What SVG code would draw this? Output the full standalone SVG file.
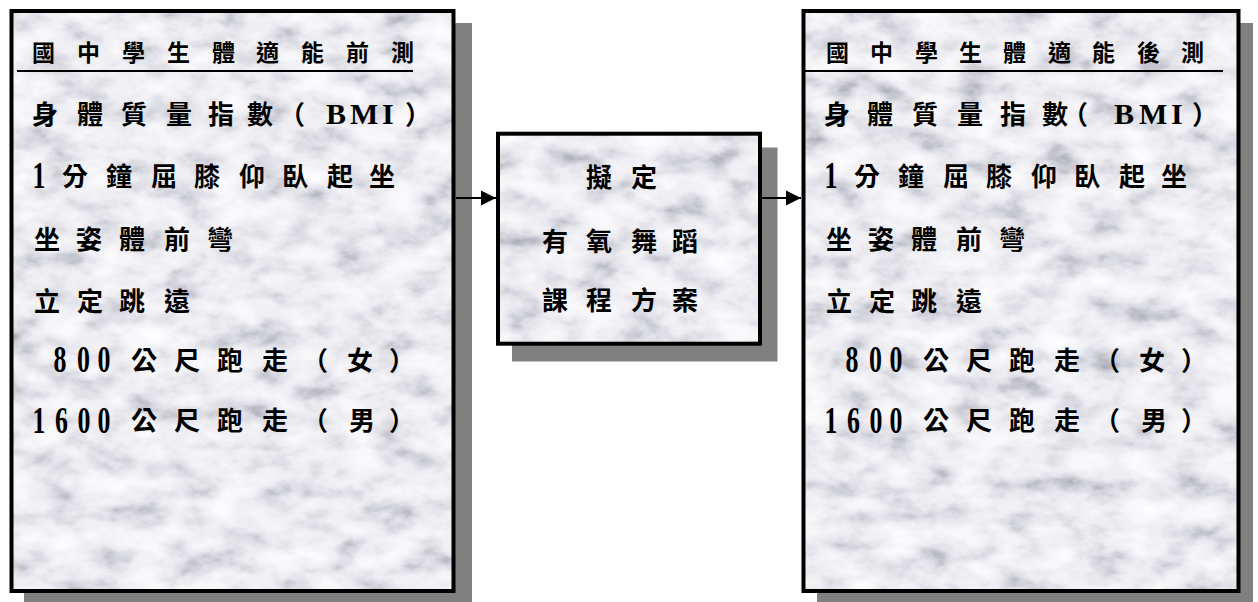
<svg xmlns="http://www.w3.org/2000/svg" width="1258" height="602" viewBox="0 0 1258 602">
<style>
.shadow{fill:#808080}
.base{fill:#e6e6ea}
.border{fill:none;stroke:#000;stroke-width:4}
.cjk{font-family:"Noto Sans CJK TC","Noto Sans CJK SC",sans-serif;font-weight:700;font-size:26px;fill:#000}
.title{font-size:23px}
.lat{font-family:"Liberation Serif",serif;font-weight:700;font-size:30px;fill:#000}
.num{font-family:"Liberation Serif",serif;font-weight:700;font-size:37px;fill:#000}
.rule{stroke:#000;stroke-width:2}
.conn{stroke:#000;stroke-width:2;fill:none}
</style>
<defs>
<filter id="marble" filterUnits="objectBoundingBox" x="0" y="0" width="1" height="1" color-interpolation-filters="sRGB">
<feTurbulence type="fractalNoise" baseFrequency="0.024 0.04" numOctaves="5" seed="7"/>
<feColorMatrix type="matrix" values="1 0 0 0 0 1 0 0 0 0 1 0 0 0 0 0 0 0 0 1"/>
<feComponentTransfer>
<feFuncR type="table" tableValues="0.6 0.74 0.86 0.93 0.97 0.99 1"/>
<feFuncG type="table" tableValues="0.6 0.74 0.86 0.93 0.97 0.99 1"/>
<feFuncB type="table" tableValues="0.64 0.78 0.89 0.95 0.98 1 1"/>
</feComponentTransfer>
</filter>
<marker id="arrow" markerUnits="userSpaceOnUse" markerWidth="16" markerHeight="16" viewBox="0 0 16 16" refX="15" refY="8" orient="auto">
<path d="M0,0.5 L15,8 L0,15.5 Z" fill="#000"/>
</marker>
</defs>

<g id="node-pretest">
<rect class="shadow" x="24" y="23" width="448" height="590"/>
<rect class="base" x="11.5" y="11" width="442" height="580"/>
<rect x="11.5" y="11" width="442" height="580" filter="url(#marble)"/>
<rect class="border" x="11.5" y="11" width="442" height="580"/>
<text class="cjk title" x="32 77 122 167 212 256 301 346 391" y="61">國中學生體適能前測</text>
<line class="rule" x1="17" y1="71" x2="413" y2="71"/>
<text y="124"><tspan class="cjk" x="32 77 121 166 208 247 279">身體質量指數（</tspan><tspan class="lat" x="326 350 382" y="124">BMI</tspan><tspan class="cjk" x="405" y="124">）</tspan></text>
<text class="num" transform="scale(0.7,1)" x="46.4" y="188">1</text>
<text class="cjk" x="62 106 151 194 239 282 327 369" y="185.5">分鐘屈膝仰臥起坐</text>
<text class="cjk" x="34 76 119 164 207" y="249">坐姿體前彎</text>
<text class="cjk" x="34 77 119 164" y="311">立定跳遠</text>
<text class="num" transform="scale(0.7,1)" x="76.4 110 139.3" y="372">800</text>
<text class="cjk" x="131 174 217 262 302 347 389" y="370">公尺跑走（女）</text>
<text class="num" transform="scale(0.7,1)" x="46.4 78.6 110.7 139.3" y="433">1600</text>
<text class="cjk" x="131 174 217 262 302 349 389" y="430">公尺跑走（男）</text>
</g>

<g id="node-program">
<rect class="shadow" x="512" y="147.5" width="265.5" height="214"/>
<rect class="base" x="498" y="133.7" width="262" height="210"/>
<rect x="498" y="133.7" width="262" height="210" filter="url(#marble)"/>
<rect class="border" x="498" y="133.7" width="262" height="210"/>
<text class="cjk" x="586 631" y="186.5">擬定</text>
<text class="cjk" x="542 586 631 672" y="251">有氧舞蹈</text>
<text class="cjk" x="542 586 631 672" y="309.5">課程方案</text>
</g>

<g id="node-posttest">
<rect class="shadow" x="817" y="23" width="436" height="590"/>
<rect class="base" x="803.5" y="11" width="435" height="580"/>
<rect x="803.5" y="11" width="435" height="580" filter="url(#marble)"/>
<rect class="border" x="803.5" y="11" width="435" height="580"/>
<text class="cjk title" x="826 870 915 959 1003 1048 1092 1137 1181" y="61">國中學生體適能後測</text>
<line class="rule" x1="805" y1="71" x2="1223" y2="71"/>
<text y="124"><tspan class="cjk" x="824 867 912 957 1000 1042 1062">身體質量指數（</tspan><tspan class="lat" x="1114 1139 1171" y="124">BMI</tspan><tspan class="cjk" x="1192" y="124">）</tspan></text>
<text class="num" transform="scale(0.7,1)" x="1177.9" y="188">1</text>
<text class="cjk" x="854 898 943 986 1031 1074 1119 1161" y="185.5">分鐘屈膝仰臥起坐</text>
<text class="cjk" x="826 868 911 956 999" y="249">坐姿體前彎</text>
<text class="cjk" x="826 869 911 956" y="311">立定跳遠</text>
<text class="num" transform="scale(0.7,1)" x="1207.9 1241.4 1270.7" y="372">800</text>
<text class="cjk" x="923 966 1009 1054 1094 1139 1181" y="370">公尺跑走（女）</text>
<text class="num" transform="scale(0.7,1)" x="1177.9 1210 1242.1 1270.7" y="433">1600</text>
<text class="cjk" x="923 966 1009 1054 1094 1141 1181" y="430">公尺跑走（男）</text>
</g>

<g id="connectors">
<line class="conn" x1="456" y1="198" x2="496" y2="198" marker-end="url(#arrow)"/>
<line class="conn" x1="762" y1="198" x2="801" y2="198" marker-end="url(#arrow)"/>
</g>
</svg>
